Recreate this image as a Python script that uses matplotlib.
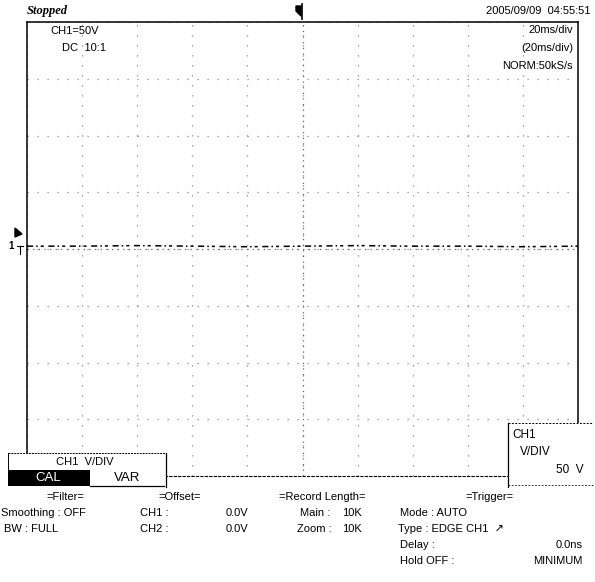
import numpy as np
import matplotlib.pyplot as plt
from matplotlib.patches import Rectangle, Polygon

plt.rcParams['font.family'] = ['Liberation Sans Narrow', 'Liberation Sans', 'DejaVu Sans']

# screen settings (20 ms/div, 50 V/div, 10 x 8 divisions)
time_div = 20          # ms
volt_div = 50          # V
n_xdiv, n_ydiv = 10, 8

# CH1 trace (ms, V) - sits just above ground
trace_t = [-100, -80, -60, -40, -20, 0, 20, 40, 60, 80, 100]
trace_v = [2.5, 2.5, 3.0, 2.5, 2.0, 2.5, 3.0, 2.5, 2.5, 2.0, 2.5]

# labels on the screen
header_left = "Stopped"
header_right = "2005/09/09  04:55:51"
ch_info = ["CH1=50V", "DC  10:1"]
tb_info = ["20ms/div", "(20ms/div)", "NORM:50kS/s"]

W, H = 595, 582
fig = plt.figure(figsize=(W / 100, H / 100), dpi=100)

# ---- graticule area ----
x0, x1, y0, y1 = 27, 578, 22, 476
ax = fig.add_axes([x0 / W, 1 - y1 / H, (x1 - x0) / W, (y1 - y0) / H])
half_t = time_div * n_xdiv / 2
half_v = volt_div * n_ydiv / 2
ax.set_xlim(-half_t, half_t)
ax.set_ylim(-half_v, half_v)
ax.set_xticks(np.arange(-half_t, half_t + 1, time_div))
ax.set_yticks(np.arange(-half_v, half_v + 1, volt_div))
ax.grid(True, color='#888888', linestyle=(0, (1, 7)), linewidth=0.9)
ax.tick_params(length=0, labelbottom=False, labelleft=False)
# denser dots on the centre cross
ax.axvline(0, color='#666666', linestyle=(0, (1, 3.5)), linewidth=0.9)
ax.axhline(0, color='#666666', linestyle=(0, (1, 3.5)), linewidth=0.9)
for s in ['top', 'left', 'right']:
    ax.spines[s].set_linewidth(1.1)
ax.spines['bottom'].set_linestyle((0, (2, 2)))
ax.spines['bottom'].set_linewidth(0.8)

ax.plot(trace_t, trace_v, color='black', linewidth=1.1,
        linestyle=(0, (4, 2, 1, 2, 2, 3)), zorder=5)

# ---- overlay in pixel coordinates for text and menus ----
ov = fig.add_axes([0, 0, 1, 1], facecolor='none')
ov.set_xlim(0, W)
ov.set_ylim(H, 0)
ov.axis('off')

fs = 8
ov.text(27, 11, header_left, fontsize=9, fontstyle='italic', fontweight='bold',
        family=['Liberation Serif', 'DejaVu Serif'], va='center', ha='left')
ov.text(590, 11, header_right, fontsize=fs, va='center', ha='right')

# trigger position mark
ov.add_patch(Polygon([[296, 6], [301, 6], [301, 16], [296, 11]], closed=True,
                     color='black'))
ov.plot([302, 302], [4, 19], color='black', linewidth=1.2)

for i, s in enumerate(ch_info):
    ov.text([50, 62][i], 31 + i * 17, s, fontsize=fs, va='center', ha='left')
for i, s in enumerate(tb_info):
    ov.text(573, 30 + i * 18, s, fontsize=fs, va='center', ha='right')

# trigger level and ground markers on the left edge
ov.add_patch(Polygon([[15, 228], [22, 234], [15, 237]], closed=True, color='black'))
ov.text(11, 246, "1", fontsize=7, va='center', ha='center', fontweight='bold')
ov.plot([17, 23], [246, 246], color='black', linewidth=0.8)
ov.plot([20, 20], [246, 254], color='black', linewidth=0.8)

# CH1 V/DIV menu bottom-left
ov.add_patch(Rectangle((8, 453), 158, 34, facecolor='white', edgecolor='none', zorder=3))
ov.plot([8, 166], [453, 453], color='black', linewidth=0.7, linestyle=(0, (2, 1)), zorder=4)
ov.plot([166, 166], [453, 487], color='black', linewidth=0.9, zorder=4)
ov.plot([8, 8], [453, 470], color='black', linewidth=0.7, zorder=4)
ov.text(85, 462, "CH1  V/DIV", fontsize=fs, va='center', ha='center', zorder=5)
ov.add_patch(Rectangle((8, 470), 82, 16, facecolor='black', edgecolor='none', zorder=4))
ov.text(48, 478, "CAL", fontsize=9.5, color='white', va='center', ha='center', zorder=5)
ov.text(127, 478, "VAR", fontsize=9.5, va='center', ha='center', zorder=5)
ov.plot([90, 164], [486, 486], color='black', linewidth=0.9, zorder=5)

# CH1 V/DIV readout bottom-right
ov.add_patch(Rectangle((508, 423), 85, 64, facecolor='white', edgecolor='none', zorder=3))
ov.plot([508, 593], [423, 423], color='black', linewidth=0.7, linestyle=(0, (2, 1.5)), zorder=4)
ov.plot([508, 508], [423, 487], color='black', linewidth=0.9, zorder=4)
ov.plot([508, 593], [485, 485], color='black', linewidth=0.6, linestyle=(0, (2, 2)), zorder=4)
ov.text(512, 435, "CH1", fontsize=8.5, va='center', ha='left', zorder=5)
ov.text(520, 452, "V/DIV", fontsize=8.5, va='center', ha='left', zorder=5)
ov.text(584, 470, "50  V", fontsize=8.5, va='center', ha='right', zorder=5)

# status rows under the screen
heads = [(65, "=Filter="), (180, "=Offset="), (322, "=Record Length="), (490, "=Trigger=")]
for x, s in heads:
    ov.text(x, 497, s, fontsize=fs, va='center', ha='center')

rows_left = [(1, 513, "Smoothing : OFF"), (4, 529, "BW : FULL"),
             (140, 513, "CH1 :"), (140, 529, "CH2 :"),
             (300, 513, "Main :"), (297, 529, "Zoom :"),
             (400, 513, "Mode : AUTO"), (398, 529, "Type : EDGE CH1  \u2197"),
             (400, 545, "Delay :"), (400, 561, "Hold OFF :")]
for x, y, s in rows_left:
    ov.text(x, y, s, fontsize=fs, va='center', ha='left')

rows_right = [(248, 513, "0.0V"), (248, 529, "0.0V"),
              (362, 513, "10K"), (362, 529, "10K"),
              (583, 545, "0.0ns"), (583, 561, "MINIMUM")]
for x, y, s in rows_right:
    ov.text(x, y, s, fontsize=fs, va='center', ha='right')

fig.savefig("out.png", dpi=100)
